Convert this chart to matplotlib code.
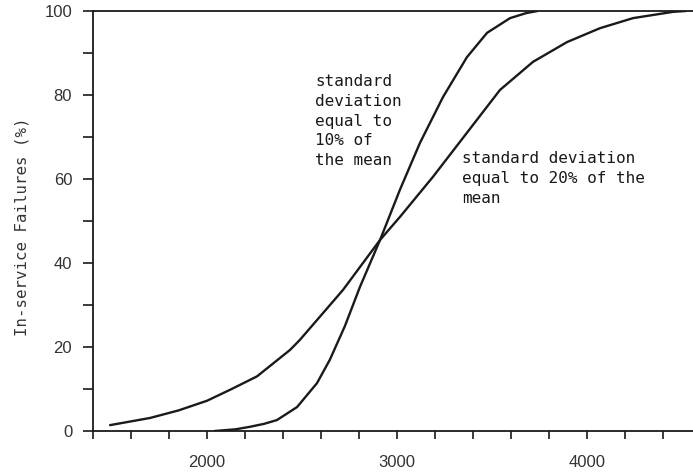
import matplotlib
matplotlib.use("Agg")
import matplotlib.pyplot as plt
from matplotlib.ticker import MultipleLocator, FixedLocator

# Data
x_sd10 = [2040, 2150, 2226, 2300, 2368, 2474, 2579, 2647, 2726, 2805, 2911,
          3016, 3121, 3242, 3368, 3474, 3595, 3680, 3740]
y_sd10 = [0.0, 0.4, 1.0, 1.7, 2.6, 5.7, 11.4, 17.0, 25.0, 34.3, 45.5,
          57.5, 68.6, 79.5, 89.0, 94.8, 98.3, 99.5, 100.0]

x_sd20 = [1490, 1700, 1850, 2000, 2130, 2263, 2437, 2489, 2716, 2911, 3016,
          3189, 3368, 3542, 3716, 3895, 4068, 4242, 4453, 4520]
y_sd20 = [1.4, 3.1, 4.9, 7.2, 10.0, 13.0, 19.3, 21.7, 33.6, 45.5, 51.0,
          60.5, 71.0, 81.2, 87.9, 92.6, 95.9, 98.3, 99.8, 100.0]

x_major = [2000, 3000, 4000]
x_labels = ["2000", "3000", "4000"]
y_major = [0, 20, 40, 60, 80, 100]

label_sd10 = "standard\ndeviation\nequal to\n10% of\nthe mean"
label_sd20 = "standard deviation\nequal to 20% of the\nmean"
y_title = "In-service Failures (%)"

W, H = 693, 474
fig = plt.figure(figsize=(W / 100, H / 100), dpi=100)
left, right, top, bottom = 93, 693, 11, 431
ax = fig.add_axes([left / W, 1 - bottom / H, (right - left) / W, (bottom - top) / H])

ink = "#1a1a1a"
ax.plot(x_sd10, y_sd10, color=ink, lw=1.7, solid_capstyle="round", solid_joinstyle="round")
ax.plot(x_sd20, y_sd20, color=ink, lw=1.7, solid_capstyle="round", solid_joinstyle="round")

ax.set_xlim(1400, 4558)
ax.set_ylim(0, 100)

for s in ["left", "bottom", "top"]:
    ax.spines[s].set_color(ink)
    ax.spines[s].set_linewidth(1.3)
ax.spines["right"].set_visible(False)

ax.xaxis.set_major_locator(FixedLocator(x_major))
ax.set_xticklabels(x_labels)
ax.xaxis.set_minor_locator(MultipleLocator(200))
ax.yaxis.set_major_locator(FixedLocator(y_major))
ax.yaxis.set_minor_locator(MultipleLocator(10))

tick_font = ["Liberation Sans", "DejaVu Sans"]
ax.tick_params(axis="x", which="both", direction="out", length=6, width=1.2,
               color=ink, pad=11)
ax.tick_params(axis="y", which="both", direction="out", length=7, width=1.2,
               color=ink, pad=8)
ax.tick_params(axis="both", which="major", labelsize=12, labelcolor="#333333")
for lab in ax.get_xticklabels() + ax.get_yticklabels():
    lab.set_family(tick_font)

mono = ["DejaVu Sans Mono"]
ax.text(2568, 85.0, label_sd10, family=mono, fontsize=11.5, color=ink,
        va="top", ha="left", linespacing=1.4)
ax.text(3342, 66.6, label_sd20, family=mono, fontsize=11.5, color=ink,
        va="top", ha="left", linespacing=1.4)

fig.text(22 / W, 1 - 227 / H, y_title, family=mono, fontsize=11.3, color="#333333",
         rotation=90, ha="center", va="center")

fig.savefig("out.png", dpi=100)
